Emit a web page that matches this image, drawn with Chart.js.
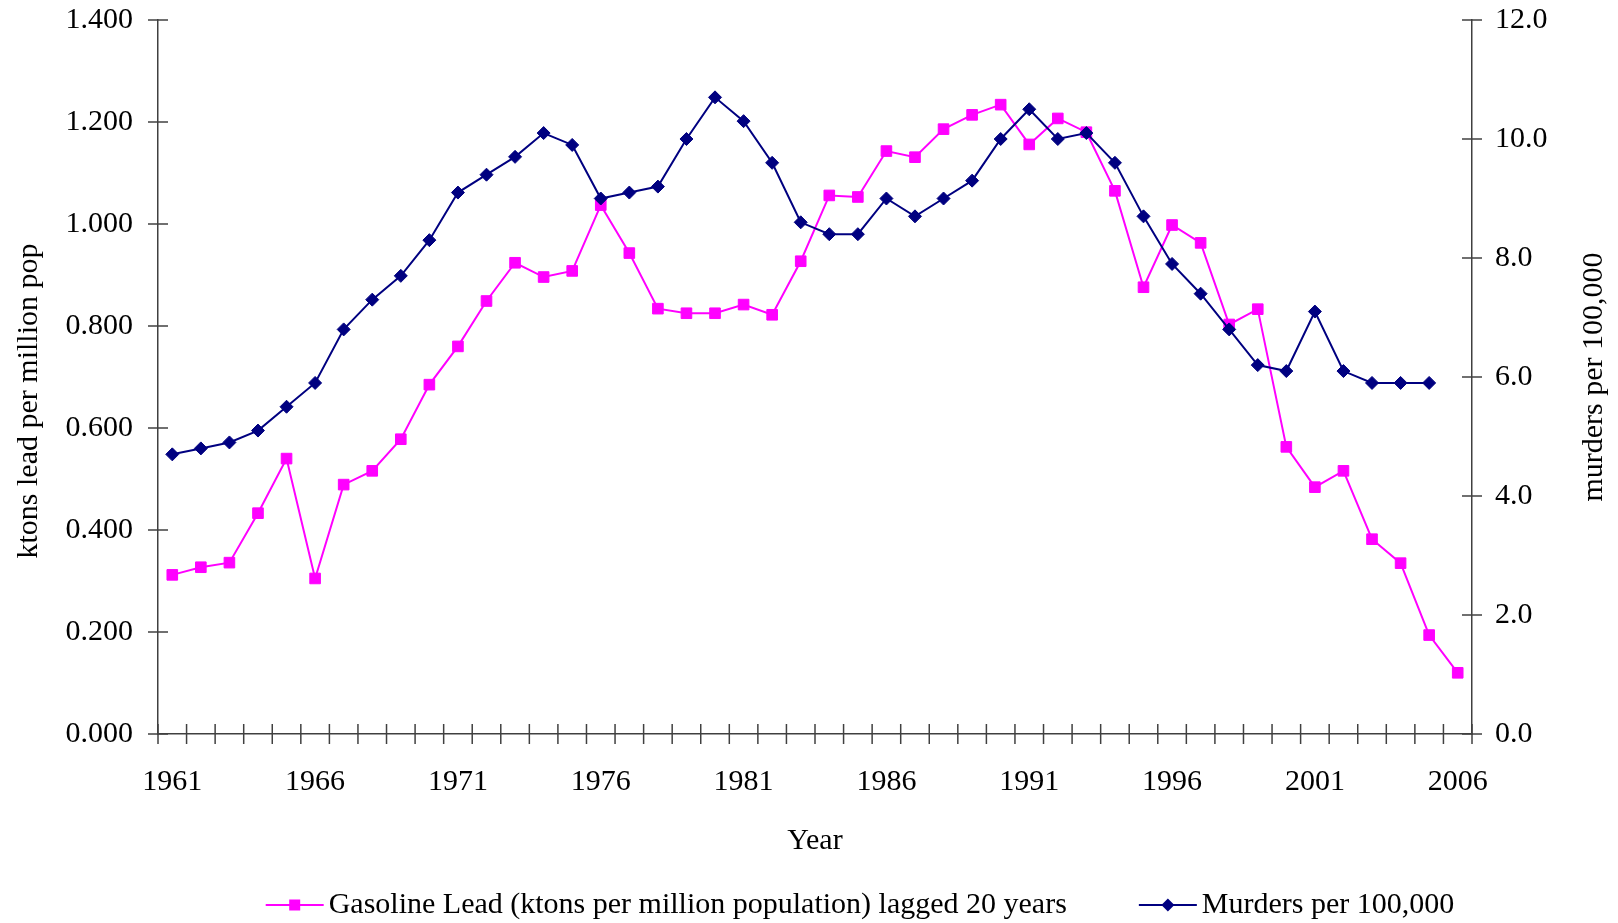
<!DOCTYPE html>
<html>
<head>
<meta charset="utf-8">
<script src="https://cdn.jsdelivr.net/npm/chart.js@4.4.1/dist/chart.umd.min.js"></script>
<style>
  html, body { margin: 0; padding: 0; background: #ffffff; }
  #wrap { width: 1618px; height: 923px; position: relative; }
</style>
</head>
<body>
<div id="wrap"><canvas id="c"></canvas></div>
<script>
// ---- data ----
const years = ['1961','1962','1963','1964','1965','1966','1967','1968','1969','1970',
               '1971','1972','1973','1974','1975','1976','1977','1978','1979','1980',
               '1981','1982','1983','1984','1985','1986','1987','1988','1989','1990',
               '1991','1992','1993','1994','1995','1996','1997','1998','1999','2000',
               '2001','2002','2003','2004','2005','2006'];
const leadLagged = [0.312,0.327,0.336,0.433,0.540,0.305,0.489,0.516,0.578,0.685,
                    0.760,0.849,0.924,0.896,0.908,1.037,0.943,0.834,0.825,0.825,
                    0.842,0.822,0.927,1.056,1.053,1.143,1.131,1.186,1.214,1.234,
                    1.156,1.207,1.180,1.065,0.876,0.998,0.963,0.803,0.833,0.563,
                    0.484,0.516,0.382,0.335,0.194,0.120];
const murders = [4.7,4.8,4.9,5.1,5.5,5.9,6.8,7.3,7.7,8.3,
                 9.1,9.4,9.7,10.1,9.9,9.0,9.1,9.2,10.0,10.7,
                 10.3,9.6,8.6,8.4,8.4,9.0,8.7,9.0,9.3,10.0,
                 10.5,10.0,10.1,9.6,8.7,7.9,7.4,6.8,6.2,6.1,
                 7.1,6.1,5.9,5.9,5.9,null];
const leadLabel = 'Gasoline Lead (ktons per million population) lagged 20 years';
const murdersLabel = 'Murders per 100,000';
const xTitle = 'Year';
const yLeftTitle = 'ktons lead per million pop';
const yRightTitle = 'murders per 100,000';

// ---- styling ----
const FONT = "'Liberation Serif', 'Times New Roman', serif";
const AXIS = '#404040';
const PINK = '#FF00FF';
const NAVY = '#000080';
Chart.defaults.font.family = FONT;
Chart.defaults.font.size = 30;
Chart.defaults.color = '#000000';

function seg(ctx, x1, y1, x2, y2) {
  ctx.beginPath(); ctx.moveTo(x1, y1); ctx.lineTo(x2, y2); ctx.stroke();
}

const crossTicks = {
  id: 'crossTicks',
  beforeDatasetsDraw(chart) {
    const ctx = chart.ctx;
    const sx = chart.scales.x, sl = chart.scales.y, sr = chart.scales.y1;
    ctx.save();
    ctx.strokeStyle = AXIS;
    ctx.lineWidth = 1.5;
    sl.ticks.forEach(t => { const p = sl.getPixelForValue(t.value); seg(ctx, sl.right - 10, p, sl.right + 10, p); });
    sr.ticks.forEach(t => { const p = sr.getPixelForValue(t.value); seg(ctx, sr.left - 10, p, sr.left + 10, p); });
    const w = sx.getPixelForValue(1) - sx.getPixelForValue(0);
    const start = sx.getPixelForValue(0) - w / 2;
    for (let i = 0; i <= years.length; i++) {
      const p = start + i * w;
      seg(ctx, p, sx.top - 10, p, sx.top + 10);
    }
    ctx.restore();
  }
};

// vertical axis titles, both reading bottom-to-top as in the original
const axisTitles = {
  id: 'axisTitles',
  afterDraw(chart) {
    const ctx = chart.ctx;
    const area = chart.chartArea;
    ctx.save();
    ctx.font = '30px ' + FONT;
    ctx.fillStyle = '#000000';
    ctx.textAlign = 'center';
    ctx.textBaseline = 'middle';
    ctx.save();
    ctx.translate(29, (area.top + area.bottom) / 2 + 24);
    ctx.rotate(-Math.PI / 2);
    ctx.fillText(yLeftTitle, 0, 0);
    ctx.restore();
    ctx.save();
    ctx.translate(chart.width - 24, (area.top + area.bottom) / 2);
    ctx.rotate(-Math.PI / 2);
    ctx.fillText(yRightTitle, 0, 0);
    ctx.restore();
    ctx.restore();
  }
};

const customLegend = {
  id: 'customLegend',
  afterDraw(chart) {
    const ctx = chart.ctx;
    const items = [
      { text: leadLabel, color: PINK, marker: 'square' },
      { text: murdersLabel, color: NAVY, marker: 'diamond' }
    ];
    const lineLen = 58, textGap = 5, itemGap = 72;
    ctx.save();
    ctx.font = '30px ' + FONT;
    const widths = items.map(it => ctx.measureText(it.text).width);
    let total = 0;
    items.forEach((it, i) => { total += lineLen + textGap + widths[i]; });
    total += itemGap * (items.length - 1);
    let x = chart.width / 2 + 51 - total / 2;
    const y = 905;
    items.forEach((it, i) => {
      ctx.strokeStyle = it.color;
      ctx.fillStyle = it.color;
      ctx.lineWidth = 2;
      seg(ctx, x, y, x + lineLen, y);
      const cx = x + lineLen / 2;
      if (it.marker === 'square') {
        ctx.fillRect(cx - 5.5, y - 5.5, 11, 11);
      } else {
        ctx.beginPath();
        ctx.moveTo(cx, y - 6.5); ctx.lineTo(cx + 6.5, y); ctx.lineTo(cx, y + 6.5); ctx.lineTo(cx - 6.5, y);
        ctx.closePath(); ctx.fill();
      }
      ctx.fillStyle = '#000000';
      ctx.textBaseline = 'middle';
      ctx.textAlign = 'left';
      ctx.fillText(it.text, x + lineLen + textGap, y);
      x += lineLen + textGap + widths[i] + itemGap;
    });
    ctx.restore();
  }
};

function noScalePadding(scale) {
  scale.paddingTop = 0;
  scale.paddingBottom = 0;
}

new Chart(document.getElementById('c'), {
  type: 'line',
  data: {
    labels: years,
    datasets: [
      {
        label: murdersLabel,
        data: murders,
        yAxisID: 'y1',
        borderColor: NAVY,
        backgroundColor: NAVY,
        borderWidth: 2,
        pointStyle: 'rectRot',
        pointRadius: 6.5,
        pointBorderWidth: 1,
        pointBackgroundColor: NAVY,
        pointBorderColor: NAVY,
        tension: 0,
        spanGaps: false,
        clip: false
      },
      {
        label: leadLabel,
        data: leadLagged,
        yAxisID: 'y',
        borderColor: PINK,
        backgroundColor: PINK,
        borderWidth: 2,
        pointStyle: 'rect',
        pointRadius: 7.5,
        pointBorderWidth: 1,
        pointBackgroundColor: PINK,
        pointBorderColor: PINK,
        tension: 0,
        clip: false
      }
    ]
  },
  options: {
    responsive: true,
    maintainAspectRatio: false,
    animation: false,
    events: [],
    layout: { padding: { top: 20, left: 0, right: 0, bottom: 0 } },
    plugins: {
      legend: { display: false },
      tooltip: { enabled: false },
      title: { display: false }
    },
    scales: {
      x: {
        type: 'category',
        offset: true,
        grid: { display: false, drawTicks: false },
        border: { display: true, color: AXIS, width: 1.5 },
        ticks: {
          autoSkip: false,
          maxRotation: 0,
          minRotation: 0,
          padding: 30,
          color: '#000000',
          font: { size: 30, family: FONT, lineHeight: 1.2 },
          callback: function (v, i) { return i % 5 === 0 ? years[i] : ''; }
        },
        title: {
          display: true,
          text: xTitle,
          color: '#000000',
          font: { size: 30, family: FONT, lineHeight: 1.2 },
          padding: { top: 0, bottom: 64 }
        },
        afterFit(scale) { scale.height = 189; }
      },
      y: {
        position: 'left',
        min: 0,
        max: 1.4,
        grid: { display: false, drawTicks: false },
        border: { display: true, color: AXIS, width: 1.5 },
        ticks: {
          stepSize: 0.2,
          padding: 25,
          color: '#000000',
          font: { size: 30, family: FONT, lineHeight: 1.2 },
          callback: v => Number(v).toFixed(3)
        },
        title: { display: false },
        afterFit(scale) { scale.width = 158; noScalePadding(scale); }
      },
      y1: {
        position: 'right',
        min: 0,
        max: 12,
        grid: { display: false, drawTicks: false },
        border: { display: true, color: AXIS, width: 1.5 },
        ticks: {
          stepSize: 2,
          padding: 23,
          color: '#000000',
          font: { size: 30, family: FONT, lineHeight: 1.2 },
          callback: v => Number(v).toFixed(1)
        },
        title: { display: false },
        afterFit(scale) { scale.width = 146; noScalePadding(scale); }
      }
    }
  },
  plugins: [crossTicks, axisTitles, customLegend]
});
</script>
</body>
</html>
